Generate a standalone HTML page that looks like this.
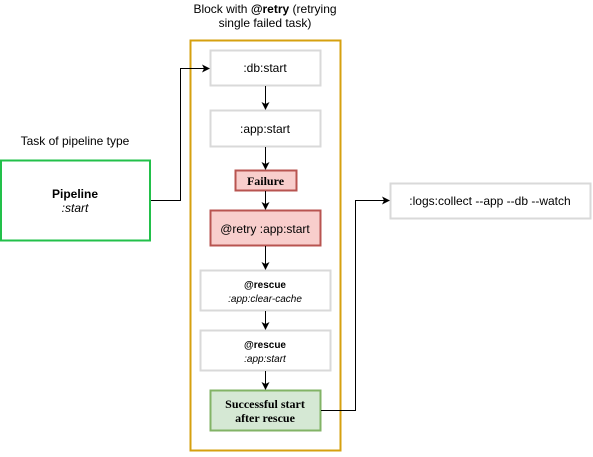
<!DOCTYPE html>
<html><head><style>body{margin:0;background:#fff}</style></head><body>
<svg width="593" height="452" xmlns="http://www.w3.org/2000/svg" font-family="Liberation Sans, sans-serif">
<defs><marker id="a" markerWidth="8" markerHeight="8" refX="7" refY="4" orient="auto" markerUnits="userSpaceOnUse"><path d="M0,0 L8,4 L0,8 L2,4 z" fill="#000"/></marker></defs>
<text x="265" y="13" font-size="12" text-anchor="middle">Block with <tspan font-weight="bold">@retry</tspan> (retrying</text>
<text x="265" y="27" font-size="12" text-anchor="middle">single failed task)</text>
<rect x="190.5" y="40.5" width="150" height="410" fill="none" stroke="#d6a00f" stroke-width="2"/>
<text x="75" y="145" font-size="12" text-anchor="middle">Task of pipeline type</text>
<rect x="1" y="160.5" width="149" height="80" fill="#fff" stroke="#22c04a" stroke-width="2"/>
<text x="75" y="198" font-size="12" font-weight="bold" text-anchor="middle">Pipeline</text>
<text x="75" y="212" font-size="12" font-style="italic" text-anchor="middle">:start</text>
<g stroke="#d9d9d9" stroke-width="2" fill="#fff">
<rect x="210.5" y="50.5" width="110" height="35"/>
<rect x="210.5" y="110.5" width="110" height="36"/>
<rect x="200.5" y="270.5" width="130" height="40"/>
<rect x="200.5" y="330.5" width="130" height="40"/>
<rect x="390.5" y="183.5" width="200" height="35"/>
</g>
<rect x="235.5" y="170.5" width="61" height="20" fill="#f8cecc" stroke="#b85450" stroke-width="2"/>
<rect x="210.5" y="210.5" width="110" height="35" fill="#f8cecc" stroke="#b85450" stroke-width="2"/>
<rect x="210.5" y="390.5" width="110" height="40" fill="#d5e8d4" stroke="#82b366" stroke-width="2"/>
<g font-size="12" text-anchor="middle">
<text x="265" y="72">:db:start</text>
<text x="265" y="133">:app:start</text>
<text x="265.5" y="185" font-family="Liberation Serif, serif" font-weight="bold">Failure</text>
<text x="265" y="233">@retry :app:start</text>
<text x="490" y="205">:logs:collect --app --db --watch</text>
<text x="265" y="288" font-size="10" font-weight="bold">@rescue</text>
<text x="265" y="302" font-size="10" font-style="italic">:app:clear-cache</text>
<text x="265" y="348" font-size="10" font-weight="bold">@rescue</text>
<text x="265" y="362" font-size="10" font-style="italic">:app:start</text>
<text x="265" y="408" font-family="Liberation Serif, serif" font-weight="bold">Successful start</text>
<text x="265" y="422" font-family="Liberation Serif, serif" font-weight="bold">after rescue</text>
</g>
<g stroke="#000" fill="none" stroke-width="1">
<path d="M265.5 86 V109" marker-end="url(#a)"/>
<path d="M265.5 147 V169" marker-end="url(#a)"/>
<path d="M265.5 191 V209" marker-end="url(#a)"/>
<path d="M265.5 246 V269" marker-end="url(#a)"/>
<path d="M265.5 311 V329" marker-end="url(#a)"/>
<path d="M265.5 371 V389" marker-end="url(#a)"/>
<path d="M151 200.5 H180.5 V68.5 H209" marker-end="url(#a)"/>
<path d="M321 410.5 H355.5 V200.5 H389" marker-end="url(#a)"/>
</g>
</svg>
</body></html>
